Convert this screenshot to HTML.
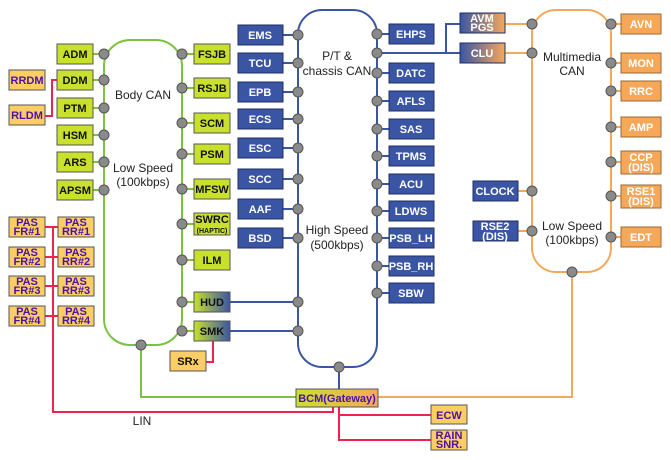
<!DOCTYPE html>
<html><head><meta charset="utf-8"><style>
html,body{margin:0;padding:0;background:#fff;}
svg{display:block;}
text{font-family:"Liberation Sans",sans-serif;}
.b{font-weight:bold;font-size:11px;text-anchor:middle;}
.l{font-size:12px;text-anchor:middle;fill:#222;}
</style></head><body>
<svg width="671" height="460" viewBox="0 0 671 460" xmlns="http://www.w3.org/2000/svg">
<defs>
<linearGradient id="gb" x1="0" x2="1"><stop offset="0" stop-color="#c9e12c"/><stop offset="1" stop-color="#3a55a4"/></linearGradient>
<linearGradient id="bo" x1="0" x2="1"><stop offset="0" stop-color="#3a55a4"/><stop offset="1" stop-color="#f6a85a"/></linearGradient>
<linearGradient id="go" x1="0" x2="1"><stop offset="0" stop-color="#c9e12c"/><stop offset="1" stop-color="#f6a85a"/></linearGradient>
</defs>
<g fill="none" stroke-width="2">
<!-- buses -->
<rect x="104" y="40" width="78" height="305" rx="26" stroke="#7cc240"/>
<rect x="298" y="10" width="79" height="357" rx="24" stroke="#3a55a4"/>
<rect x="532" y="10" width="79" height="262" rx="24" stroke="#f6a85a"/>
<!-- green stubs -->
<g stroke="#7cc240">
<path d="M93 54H104M93 80H104M93 108H104M93 135H104M93 162H104M93 190H104"/>
<path d="M182 54H194M182 88H194M182 123H194M182 154H194M182 189H194M182 224H194M182 260H194M182 302H194M182 331H194"/>
<path d="M141 345V397H296"/>
</g>
<g stroke="#3a55a4">
<path d="M283 35H298M283 63H298M283 92H298M283 119H298M283 148H298M283 179H298M283 209H298M283 238H298"/>
<path d="M230 302H298M230 331H298"/>
<path d="M377 34H389M377 73H389M377 101H389M377 129H389M377 156H389M377 184H389M377 211H389M377 238H389M377 266H389M377 293H389"/>
<path d="M377 53H460M446 53V24H460"/>
<path d="M339 367V389"/>
</g>
<g stroke="#f6a85a">
<path d="M505 24H532M505 53H532M518 191H532M518 231H532"/>
<path d="M611 24H621M611 63H621M611 91H621M611 127H621M611 162H621M611 196H621M611 237H621"/>
<path d="M572 272V397H378"/>
</g>
<g stroke="#f0224e">
<path d="M57 80H52V116H45M52 80V80"/>
<path d="M45 227H58M45 257H58M45 286H58M45 316H58"/>
<path d="M53 227V412H333V407"/>
<path d="M213 341V362H206"/>
<path d="M339 407V440H431M339 415H431"/>
</g>
</g>
<!-- dots -->
<g fill="#8a8a8a" stroke="#555" stroke-width="1">
<circle cx="104" cy="54" r="5"/><circle cx="104" cy="80" r="5"/><circle cx="104" cy="108" r="5"/><circle cx="104" cy="135" r="5"/><circle cx="104" cy="162" r="5"/><circle cx="104" cy="190" r="5"/>
<circle cx="182" cy="54" r="5"/><circle cx="182" cy="88" r="5"/><circle cx="182" cy="123" r="5"/><circle cx="182" cy="154" r="5"/><circle cx="182" cy="189" r="5"/><circle cx="182" cy="224" r="5"/><circle cx="182" cy="260" r="5"/><circle cx="182" cy="302" r="5"/><circle cx="182" cy="331" r="5"/>
<circle cx="141" cy="345" r="5"/>
<circle cx="298" cy="35" r="5"/><circle cx="298" cy="63" r="5"/><circle cx="298" cy="92" r="5"/><circle cx="298" cy="119" r="5"/><circle cx="298" cy="148" r="5"/><circle cx="298" cy="179" r="5"/><circle cx="298" cy="209" r="5"/><circle cx="298" cy="238" r="5"/><circle cx="298" cy="302" r="5"/><circle cx="298" cy="331" r="5"/>
<circle cx="377" cy="34" r="5"/><circle cx="377" cy="53" r="5"/><circle cx="377" cy="73" r="5"/><circle cx="377" cy="101" r="5"/><circle cx="377" cy="129" r="5"/><circle cx="377" cy="156" r="5"/><circle cx="377" cy="184" r="5"/><circle cx="377" cy="211" r="5"/><circle cx="377" cy="238" r="5"/><circle cx="377" cy="266" r="5"/><circle cx="377" cy="293" r="5"/>
<circle cx="339" cy="367" r="5"/>
<circle cx="532" cy="24" r="5"/><circle cx="532" cy="53" r="5"/><circle cx="532" cy="191" r="5"/><circle cx="532" cy="231" r="5"/>
<circle cx="611" cy="24" r="5"/><circle cx="611" cy="63" r="5"/><circle cx="611" cy="91" r="5"/><circle cx="611" cy="127" r="5"/><circle cx="611" cy="162" r="5"/><circle cx="611" cy="196" r="5"/><circle cx="611" cy="237" r="5"/>
<circle cx="572" cy="272" r="5"/>
</g>
<!-- green boxes -->
<g stroke="#555" stroke-width="1" fill="#c9e12c">
<rect x="57" y="44" width="36" height="20"/><rect x="57" y="70" width="36" height="20"/><rect x="57" y="98" width="36" height="20"/><rect x="57" y="125" width="36" height="20"/><rect x="57" y="152" width="36" height="20"/><rect x="57" y="180" width="36" height="20"/>
<rect x="194" y="44" width="36" height="20"/><rect x="194" y="78" width="36" height="20"/><rect x="194" y="113" width="36" height="20"/><rect x="194" y="144" width="36" height="20"/><rect x="194" y="179" width="36" height="20"/><rect x="194" y="213" width="36" height="22"/><rect x="194" y="250" width="36" height="20"/>
<rect x="194" y="292" width="36" height="20" fill="url(#gb)"/><rect x="194" y="321" width="36" height="20" fill="url(#gb)"/>
</g>
<g class="b" fill="#111">
<text x="75" y="58" class="b">ADM</text><text x="75" y="84" class="b">DDM</text><text x="75" y="112" class="b">PTM</text><text x="75" y="139" class="b">HSM</text><text x="75" y="166" class="b">ARS</text><text x="75" y="194" class="b">APSM</text>
<text x="212" y="58" class="b">FSJB</text><text x="212" y="92" class="b">RSJB</text><text x="212" y="127" class="b">SCM</text><text x="212" y="158" class="b">PSM</text><text x="212" y="193" class="b">MFSW</text><text x="212" y="223" class="b">SWRC</text><text x="212" y="233" font-size="7" text-anchor="middle">(HAPTIC)</text><text x="212" y="264" class="b">ILM</text><text x="212" y="306" class="b">HUD</text><text x="212" y="335" class="b">SMK</text>
</g>
<!-- blue boxes -->
<g stroke="#1e2e66" stroke-width="1" fill="#3a55a4">
<rect x="238" y="25" width="45" height="20"/><rect x="238" y="53" width="45" height="20"/><rect x="238" y="82" width="45" height="20"/><rect x="238" y="109" width="45" height="20"/><rect x="238" y="138" width="45" height="20"/><rect x="238" y="169" width="45" height="20"/><rect x="238" y="199" width="45" height="20"/><rect x="238" y="228" width="45" height="20"/>
<rect x="389" y="24" width="45" height="20"/><rect x="389" y="63" width="45" height="20"/><rect x="389" y="91" width="45" height="20"/><rect x="389" y="119" width="45" height="20"/><rect x="389" y="146" width="45" height="20"/><rect x="389" y="174" width="45" height="20"/><rect x="389" y="201" width="45" height="20"/><rect x="389" y="228" width="45" height="20"/><rect x="389" y="256" width="45" height="20"/><rect x="389" y="283" width="45" height="20"/>
<rect x="473" y="181" width="45" height="20"/><rect x="473" y="221" width="45" height="20"/>
<rect x="460" y="13" width="45" height="20" fill="url(#bo)"/><rect x="460" y="43" width="45" height="20" fill="url(#bo)"/>
</g>
<g fill="#fff">
<text x="260" y="39" class="b">EMS</text><text x="260" y="67" class="b">TCU</text><text x="260" y="96" class="b">EPB</text><text x="260" y="123" class="b">ECS</text><text x="260" y="152" class="b">ESC</text><text x="260" y="183" class="b">SCC</text><text x="260" y="213" class="b">AAF</text><text x="260" y="242" class="b">BSD</text>
<text x="411" y="38" class="b">EHPS</text><text x="411" y="77" class="b">DATC</text><text x="411" y="105" class="b">AFLS</text><text x="411" y="133" class="b">SAS</text><text x="411" y="160" class="b">TPMS</text><text x="411" y="188" class="b">ACU</text><text x="411" y="215" class="b">LDWS</text><text x="411" y="242" class="b">PSB_LH</text><text x="411" y="270" class="b">PSB_RH</text><text x="411" y="297" class="b">SBW</text>
<text x="495" y="195" class="b">CLOCK</text><text x="495" y="230" class="b">RSE2</text><text x="495" y="240" class="b">(DIS)</text>
<text x="482" y="22" class="b">AVM</text><text x="482" y="31" class="b">PGS</text><text x="482" y="57" class="b">CLU</text>
</g>
<!-- orange boxes -->
<g stroke="#9a6a30" stroke-width="1" fill="#f6a85a">
<rect x="621" y="14" width="40" height="20"/><rect x="621" y="53" width="40" height="20"/><rect x="621" y="81" width="40" height="20"/><rect x="621" y="117" width="40" height="20"/><rect x="621" y="151" width="40" height="23"/><rect x="621" y="185" width="40" height="23"/><rect x="621" y="227" width="40" height="20"/>
</g>
<g fill="#fff">
<text x="641" y="28" class="b">AVN</text><text x="641" y="67" class="b">MON</text><text x="641" y="95" class="b">RRC</text><text x="641" y="131" class="b">AMP</text><text x="641" y="161" class="b">CCP</text><text x="641" y="171" class="b">(DIS)</text><text x="641" y="195" class="b">RSE1</text><text x="641" y="205" class="b">(DIS)</text><text x="641" y="241" class="b">EDT</text>
</g>
<!-- yellow boxes -->
<g stroke="#555" stroke-width="1" fill="#fbcd65">
<rect x="9" y="70" width="36" height="20"/><rect x="9" y="105" width="36" height="20"/>
<rect x="9" y="217" width="36" height="20"/><rect x="58" y="217" width="36" height="20"/>
<rect x="9" y="247" width="36" height="20"/><rect x="58" y="247" width="36" height="20"/>
<rect x="9" y="276" width="36" height="20"/><rect x="58" y="276" width="36" height="20"/>
<rect x="9" y="306" width="36" height="20"/><rect x="58" y="306" width="36" height="20"/>
<rect x="170" y="351" width="36" height="20"/>
<rect x="431" y="405" width="36" height="19"/><rect x="431" y="430" width="36" height="20"/>
<rect x="296" y="389" width="82" height="18" fill="url(#go)"/>
</g>
<g fill="#4b12a8">
<text x="27" y="84" class="b">RRDM</text><text x="27" y="119" class="b">RLDM</text>
<text x="27" y="226" class="b">PAS</text><text x="27" y="235" class="b">FR#1</text><text x="76" y="226" class="b">PAS</text><text x="76" y="235" class="b">RR#1</text>
<text x="27" y="256" class="b">PAS</text><text x="27" y="265" class="b">FR#2</text><text x="76" y="256" class="b">PAS</text><text x="76" y="265" class="b">RR#2</text>
<text x="27" y="285" class="b">PAS</text><text x="27" y="294" class="b">FR#3</text><text x="76" y="285" class="b">PAS</text><text x="76" y="294" class="b">RR#3</text>
<text x="27" y="315" class="b">PAS</text><text x="27" y="324" class="b">FR#4</text><text x="76" y="315" class="b">PAS</text><text x="76" y="324" class="b">RR#4</text>
<text x="449" y="419" class="b">ECW</text><text x="449" y="439" class="b">RAIN</text><text x="449" y="448" class="b">SNR.</text>
<text x="337" y="402" class="b" font-size="10">BCM(Gateway)</text>
</g>
<text x="188" y="365" class="b" fill="#111">SRx</text>
<!-- labels -->
<text x="143" y="99" class="l">Body CAN</text>
<text x="143" y="172" class="l">Low Speed</text><text x="143" y="186" class="l">(100kbps)</text>
<text x="337" y="60" class="l">P/T &amp;</text><text x="337" y="75" class="l">chassis CAN</text>
<text x="337" y="234" class="l">High Speed</text><text x="337" y="249" class="l">(500kbps)</text>
<text x="572" y="61" class="l">Multimedia</text><text x="572" y="75" class="l">CAN</text>
<text x="572" y="230" class="l">Low Speed</text><text x="572" y="244" class="l">(100kbps)</text>
<text x="142" y="425" class="l">LIN</text>
</svg>
</body></html>
